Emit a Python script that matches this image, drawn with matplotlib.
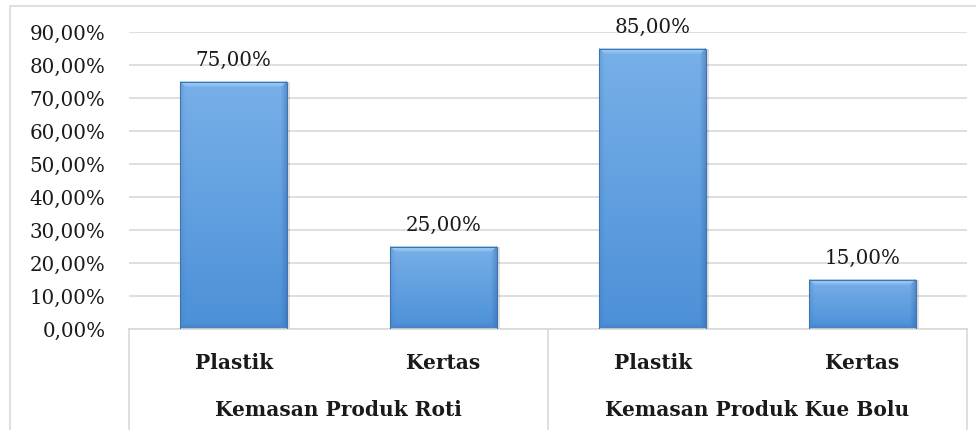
import matplotlib
matplotlib.use("Agg")
import matplotlib.pyplot as plt
import matplotlib.transforms as mtransforms
from matplotlib.patches import Rectangle
from matplotlib.lines import Line2D
import numpy as np

# ---- data ----
groups = ["Kemasan Produk Roti", "Kemasan Produk Kue Bolu"]
categories = ["Plastik", "Kertas", "Plastik", "Kertas"]
values = [0.75, 0.25, 0.85, 0.15]
value_labels = ["75,00%", "25,00%", "85,00%", "15,00%"]
yticks = [0.0, 0.1, 0.2, 0.3, 0.4, 0.5, 0.6, 0.7, 0.8, 0.9]
ytick_labels = ["0,00%", "10,00%", "20,00%", "30,00%", "40,00%", "50,00%",
                "60,00%", "70,00%", "80,00%", "90,00%"]

FONT = "DejaVu Serif"
TXT = "#1a1a1a"
GRID = "#D9D9D9"

W, H = 976, 430
fig = plt.figure(figsize=(W / 100, H / 100), dpi=100)
fig.patch.set_facecolor("white")

# outer chart border
fig.patches.append(Rectangle((10 / W, -0.05), 1.1, (H - 6) / H + 0.05,
                             transform=fig.transFigure, fill=False,
                             edgecolor=GRID, linewidth=1.2))

ax = fig.add_axes([129 / W, (H - 329) / H, (967 - 129) / W, (329 - 32) / H])
x = np.arange(len(values))
bars = ax.bar(x, values, width=0.51, color="#5B9BE0", edgecolor="none", zorder=2)

ax.set_xlim(-0.5, len(values) - 0.5)
ax.set_ylim(0, 0.9)
ax.set_yticks(yticks)
ax.set_yticklabels(ytick_labels, fontfamily=FONT, fontsize=14.3, color=TXT)
ax.tick_params(axis="y", length=0, pad=17)
ax.set_xticks([])
for s in ["top", "right", "left"]:
    ax.spines[s].set_visible(False)
ax.spines["bottom"].set_color(GRID)
ax.spines["bottom"].set_linewidth(1.2)
ax.yaxis.grid(True, color=GRID, linewidth=1.2, zorder=0)
ax.set_axisbelow(True)

fig.canvas.draw()

# gradient + bevel image for each bar
top_c = np.array([0x78, 0xB0, 0xE8]) / 255
bot_c = np.array([0x4C, 0x90, 0xD8]) / 255
for b in bars:
    x0, y0, w, h = b.get_x(), b.get_y(), b.get_width(), b.get_height()
    p0 = ax.transData.transform((x0, y0))
    p1 = ax.transData.transform((x0 + w, y0 + h))
    pw, ph = int(round(p1[0] - p0[0])), int(round(p1[1] - p0[1]))
    t = np.linspace(0, 1, ph)[:, None, None]
    img = (top_c * (1 - t) + bot_c * t) * np.ones((ph, pw, 3))
    bev = 6
    for i in range(bev):
        f = 1 - i / bev
        img[i, i:pw - i] = img[i, i:pw - i] * (1 - 0.6 * f) + 0.6 * f * np.array([0.85, 0.95, 1.0])
        img[i:ph - i, i] = img[i:ph - i, i] * (1 - 0.25 * f) + 0.25 * f * np.array([0.25, 0.45, 0.72])
        img[i:ph - i, pw - 1 - i] = img[i:ph - i, pw - 1 - i] * (1 - 0.4 * f) + 0.4 * f * np.array([0.2, 0.38, 0.65])
        img[ph - 1 - i, i:pw - i] = img[ph - 1 - i, i:pw - i] * (1 - 0.3 * f) + 0.3 * f * np.array([0.2, 0.38, 0.65])
    # soft shadow
    ax.add_patch(Rectangle((x0 + w * 0.01, y0), w * 1.02, h, facecolor="#000000",
                           alpha=0.12, edgecolor="none", zorder=1.5))
    ax.imshow(img, extent=[x0, x0 + w, y0, y0 + h], aspect="auto", zorder=2.5,
              interpolation="nearest")
    ax.add_patch(Rectangle((x0, y0), w, h, fill=False, edgecolor="#3E73B4",
                           linewidth=0.8, zorder=2.6))

ax.set_xlim(-0.5, len(values) - 0.5)
ax.set_ylim(0, 0.9)

# data labels
for xi, v, lab in zip(x, values, value_labels):
    ax.annotate(lab, (xi, v), xytext=(0, 12), textcoords="offset pixels",
                ha="center", va="bottom", fontfamily=FONT, fontsize=14.3,
                color=TXT, annotation_clip=False)

# category axis table
trans = mtransforms.blended_transform_factory(ax.transData, ax.transAxes)
for xi, c in zip(x, categories):
    ax.text(xi, -0.1145, c, transform=trans, ha="center", va="center",
            fontfamily=FONT, fontsize=14.5, fontweight="bold", color=TXT)
n_per = len(categories) // len(groups)
for gi, g in enumerate(groups):
    cx = gi * n_per + (n_per - 1) / 2
    ax.text(cx, -0.2727, g, transform=trans, ha="center", va="center",
            fontfamily=FONT, fontsize=14.5, fontweight="bold", color=TXT)
for bx in [-0.5 + k * n_per for k in range(len(groups) + 1)]:
    ax.add_line(Line2D([bx, bx], [0, -0.5], transform=trans, color=GRID,
                       linewidth=1.2, clip_on=False))

fig.savefig("out.png", dpi=100, facecolor="white")
